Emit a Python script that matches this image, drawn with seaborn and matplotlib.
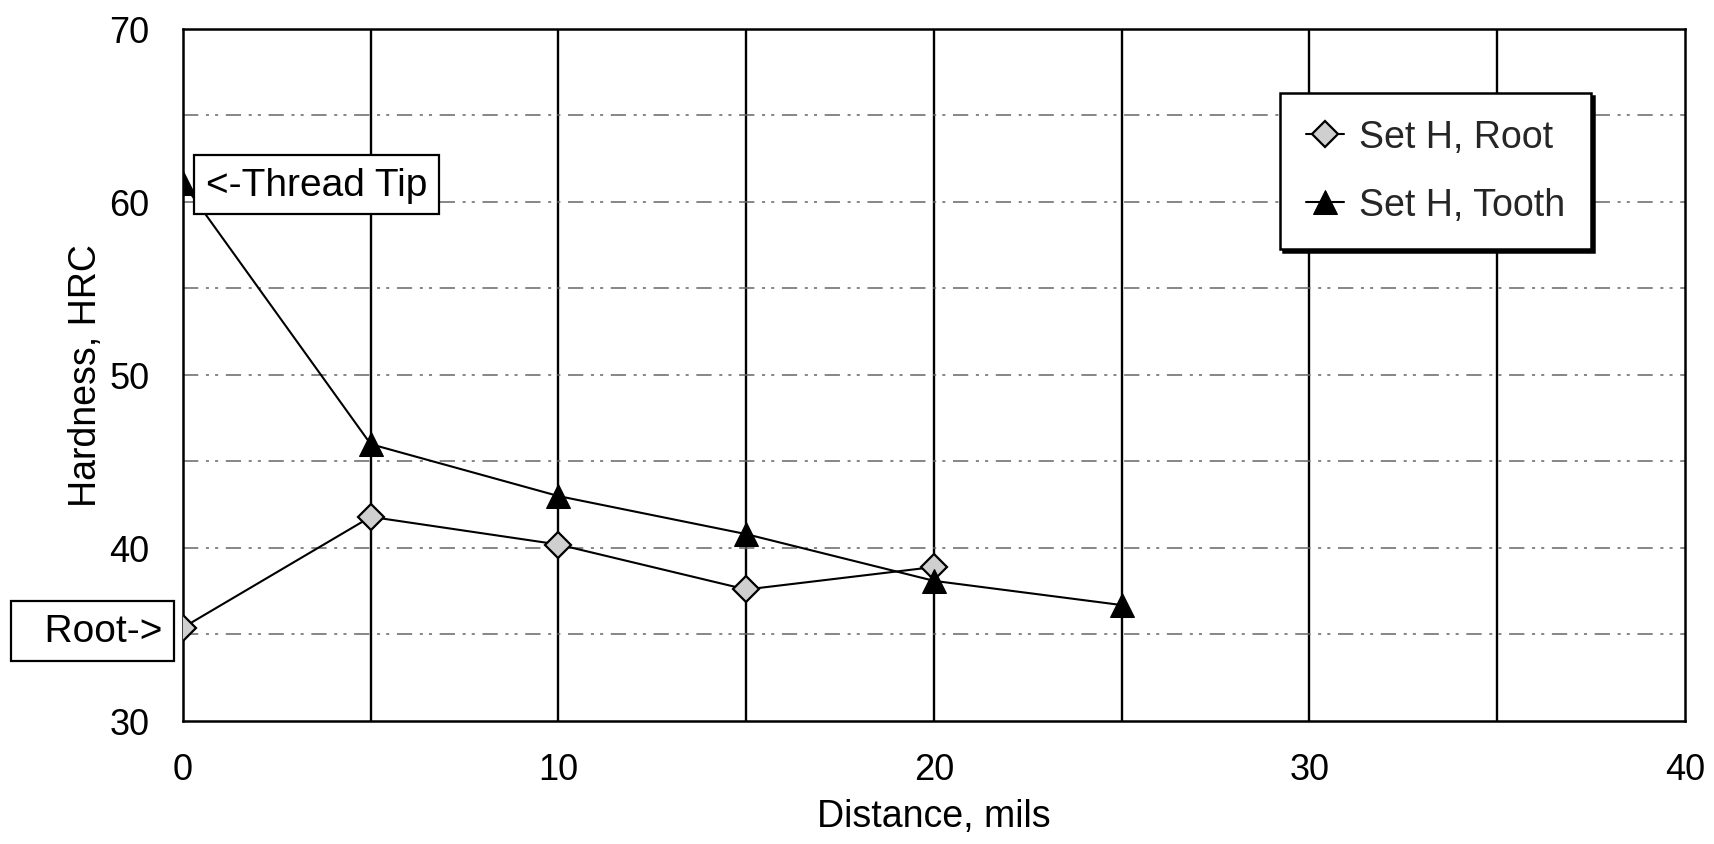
import matplotlib
matplotlib.use("Agg")
import matplotlib.pyplot as plt
import seaborn as sns
import pandas as pd

# ---- data ----
root_x = [0, 5, 10, 15, 20]
root_y = [35.4, 41.8, 40.2, 37.6, 38.9]
tooth_x = [0, 5, 10, 15, 20, 25]
tooth_y = [61.1, 46.0, 43.0, 40.8, 38.1, 36.7]
x_ticks = [0, 10, 20, 30, 40]
y_ticks = [30, 40, 50, 60, 70]
x_grid = [5, 10, 15, 20, 25, 30, 35]
y_grid = [35, 40, 45, 50, 55, 60, 65]
series_names = ["Set H, Root", "Set H, Tooth"]

sns.set_theme(style="white")
plt.rcParams["font.family"] = ["Liberation Sans", "DejaVu Sans"]

fig = plt.figure(figsize=(17.15, 8.45), dpi=100)
ax = fig.add_axes([0.1067, 0.1456, 0.8758, 0.8189])

df_root = pd.DataFrame({"x": root_x, "y": root_y})
df_tooth = pd.DataFrame({"x": tooth_x, "y": tooth_y})

# grid lines
for gx in x_grid:
    ax.axvline(gx, color="black", lw=1.7, zorder=1)
for gy in y_grid:
    ax.axhline(gy, color="#666666", lw=1.1, ls=(0, (10, 5, 2, 4, 2, 5)), zorder=1)

sns.lineplot(data=df_root, x="x", y="y", ax=ax, color="black", lw=1.5,
             marker="D", markersize=13, markerfacecolor="#cfcfcf",
             markeredgecolor="black", markeredgewidth=1.6,
             label=series_names[0], zorder=3)
sns.lineplot(data=df_tooth, x="x", y="y", ax=ax, color="black", lw=1.5,
             marker="^", markersize=17, markerfacecolor="black",
             markeredgecolor="black", label=series_names[1], zorder=3)

ax.set_xlim(0, 40)
ax.set_ylim(30, 70)
ax.set_xticks(x_ticks)
ax.set_yticks(y_ticks)
ax.tick_params(axis="both", length=0, labelsize=26, colors="black")
ax.tick_params(axis="y", pad=24)
ax.tick_params(axis="x", pad=22)

for s in ax.spines.values():
    s.set_visible(True)
    s.set_color("black")
    s.set_linewidth(1.8)

ax.set_xlabel("Distance, mils", fontsize=27, color="black", labelpad=8)
ax.set_ylabel("Hardness, HRC", fontsize=27, color="black", labelpad=4)

leg = ax.legend(loc="upper left", bbox_to_anchor=(0.718, 0.935), fontsize=27,
                frameon=True, fancybox=False, edgecolor="black",
                shadow={"color": "black", "alpha": 1.0},
                handlelength=1.0, handletextpad=0.4, borderpad=0.7,
                labelspacing=0.85, framealpha=1)
leg.get_frame().set_linewidth(1.8)

ax.text(0.6, 61.0, "<-Thread Tip", fontsize=28, ha="left", va="center",
        color="black", zorder=4,
        bbox=dict(boxstyle="square,pad=0.3", facecolor="white",
                  edgecolor="black", linewidth=1.6))
ax.text(-0.55, 35.2, "  Root->", fontsize=28, ha="right", va="center",
        color="black", clip_on=False, zorder=4,
        bbox=dict(boxstyle="square,pad=0.3", facecolor="white",
                  edgecolor="black", linewidth=1.6))

fig.savefig("out.png", dpi=100)
